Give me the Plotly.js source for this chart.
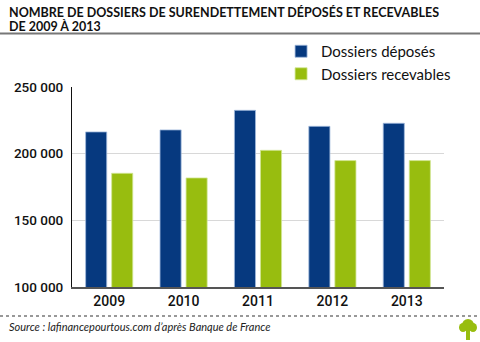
<!DOCTYPE html>
<html>
<head>
<meta charset="utf-8">
<script src="https://cdn.plot.ly/plotly-3.0.1.min.js"></script>
<style>html,body{margin:0;padding:0;background:#fff;}#chart{width:480px;height:342px;}</style>
</head>
<body>
<div id="chart"></div>
<script>
const years = ['2009', '2010', '2011', '2012', '2013'];
const deposes = [216300, 217800, 232500, 220500, 222800];
const recevables = [185300, 181800, 202500, 194800, 194800];
const tickVals = [100000, 150000, 200000, 250000];
const tickText = ['100 000', '150 000', '200 000', '250 000'];
const seriesNames = ['Dossiers déposés', 'Dossiers recevables'];
const titleLines = ['NOMBRE DE DOSSIERS DE SURENDETTEMENT DÉPOSÉS ET RECEVABLES', 'DE 2009 À 2013'];

const tickFamily = '"Roboto", "Liberation Sans", sans-serif';
const titleFont = {family: '"Lato", "Open Sans", sans-serif', size: 12.5, color: '#111', weight: 700};

const traces = [
  {type: 'bar', x: years, y: deposes, name: seriesNames[0],
   marker: {color: '#06397f', line: {color: 'rgba(160,185,220,0.8)', width: 1}}},
  {type: 'bar', x: years, y: recevables, name: seriesNames[1],
   marker: {color: '#98bd0f', line: {color: 'rgba(210,230,150,0.8)', width: 1}}}
];

function px2x(px) { return (px - 72) / 372; }
function px2y(py) { return (287 - py) / 200; }

const layout = {
  width: 480, height: 342,
  margin: {l: 72, r: 36, t: 87, b: 55},
  paper_bgcolor: '#fff', plot_bgcolor: '#fff',
  barmode: 'group', bargap: 0.3, bargroupgap: 0.19,
  showlegend: true,
  legend: {x: 0.562, y: 1.26, xanchor: 'left', yanchor: 'top',
           font: {family: '"Lato", "Open Sans", sans-serif', size: 15, color: '#111'},
           bgcolor: 'rgba(255,255,255,0)', itemwidth: 30, tracegroupgap: 0},
  xaxis: {type: 'category', showline: true, linecolor: '#555', linewidth: 2,
          ticks: '', tickfont: {family: tickFamily, size: 14, color: '#111', weight: 500},
          showgrid: false, fixedrange: true},
  yaxis: {range: [100000, 250000], tickvals: tickVals, ticktext: tickText,
          showline: true, linecolor: '#111', linewidth: 1,
          showgrid: true, gridcolor: '#d8d8d8', gridwidth: 1.5,
          ticks: '', ticklabelstandoff: 5,
          tickfont: {family: tickFamily, size: 13.5, color: '#111', weight: 500}, zeroline: false},
  annotations: [
    {xref: 'paper', yref: 'paper', x: px2x(8), y: px2y(12), xanchor: 'left', yanchor: 'middle',
     showarrow: false, text: titleLines[0], font: titleFont, borderpad: 0, height: 14},
    {xref: 'paper', yref: 'paper', x: px2x(8), y: px2y(26), xanchor: 'left', yanchor: 'middle',
     showarrow: false, text: titleLines[1], font: titleFont, borderpad: 0, height: 14},
    {xref: 'paper', yref: 'paper', x: px2x(7), y: px2y(318), xanchor: 'left', yanchor: 'top',
     showarrow: false,
     text: "<i>Source : lafinancepourtous.com d’après Banque de France</i>",
     font: {family: '"Lato", "Open Sans", sans-serif', size: 11, color: '#222'}}
  ],
  shapes: [
    {type: 'line', xref: 'paper', yref: 'paper', x0: px2x(0), x1: px2x(480), y0: px2y(33.5), y1: px2y(33.5),
     line: {color: '#777', width: 2}},
    {type: 'line', xref: 'paper', yref: 'paper', x0: px2x(0), x1: px2x(478), y0: px2y(316), y1: px2y(316),
     line: {color: '#333', width: 1.2, dash: 'dot'}},
    {type: 'rect', xref: 'paper', yref: 'paper', x0: px2x(466), x1: px2x(470), y0: px2y(340), y1: px2y(327),
     fillcolor: '#98bd0f', line: {width: 0}},
    {type: 'circle', xref: 'paper', yref: 'paper', x0: px2x(462), x1: px2x(474), y0: px2y(331), y1: px2y(319),
     fillcolor: '#98bd0f', line: {width: 0}},
    {type: 'circle', xref: 'paper', yref: 'paper', x0: px2x(459), x1: px2x(467), y0: px2y(332), y1: px2y(323),
     fillcolor: '#98bd0f', line: {width: 0}},
    {type: 'circle', xref: 'paper', yref: 'paper', x0: px2x(469), x1: px2x(477), y0: px2y(332), y1: px2y(323),
     fillcolor: '#98bd0f', line: {width: 0}}
  ]
};

Plotly.newPlot('chart', traces, layout, {displayModeBar: false, staticPlot: true});
</script>
</body>
</html>
